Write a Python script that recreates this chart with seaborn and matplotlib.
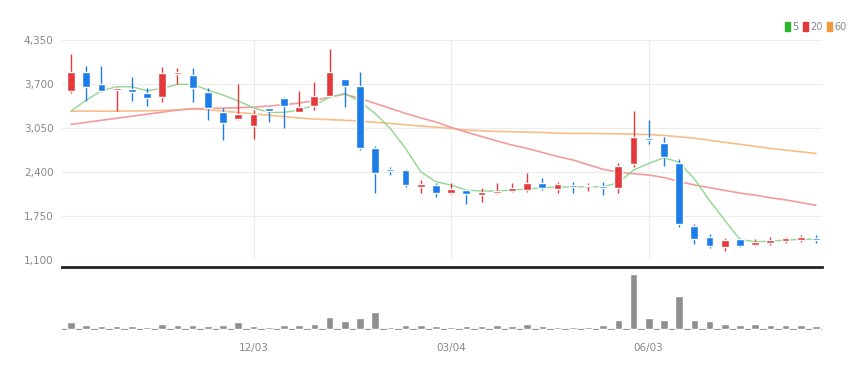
import numpy as np
import pandas as pd
import matplotlib
matplotlib.use("Agg")
import matplotlib.pyplot as plt
import seaborn as sns
from matplotlib.patches import Patch

# ── weekly candle data ────────────────────────────────────────
opens = [3601, 3873, 3696, 3611, 3622, 3572, 3512, 3852, 3833, 3586,
         3291, 3183, 3084, 3341, 3489, 3291, 3380, 3523, 3769, 3675,
         2750, 2444, 2430, 2174, 2203, 2095, 2134, 2060, 2090, 2124,
         2134, 2242, 2144, 2203, 2188, 2193, 2168, 2518, 2898, 2833,
         2528, 1602, 1435, 1297, 1405, 1322, 1356, 1380, 1395, 1425]
highs = [4143, 3970, 3970, 3660, 3808, 3645, 3947, 3932, 3932, 3636,
         3341, 3700, 3316, 3350, 3504, 3601, 3734, 4212, 3775, 3873,
         2784, 2479, 2440, 2282, 2242, 2233, 2140, 2168, 2242, 2242,
         2390, 2307, 2257, 2257, 2242, 2257, 2528, 3301, 3168, 2922,
         2592, 1632, 1484, 1420, 1420, 1405, 1444, 1444, 1469, 1469]
lows = [3563, 3453, 3586, 3301, 3449, 3380, 3439, 3696, 3430, 3168,
        2873, 3175, 2887, 3134, 3054, 3291, 3316, 3523, 3355, 2725,
        2085, 2356, 2174, 2095, 2035, 2070, 1927, 1961, 2070, 2109,
        2109, 2134, 2085, 2095, 2124, 2060, 2095, 2469, 2814, 2489,
        1583, 1336, 1273, 1237, 1287, 1307, 1322, 1346, 1371, 1346]
closes = [3873, 3651, 3597, 3645, 3582, 3489, 3858, 3877, 3636, 3350,
          3128, 3257, 3257, 3306, 3380, 3365, 3523, 3882, 3675, 2750,
          2390, 2415, 2203, 2223, 2085, 2149, 2070, 2109, 2119, 2159,
          2242, 2159, 2223, 2178, 2203, 2168, 2493, 2922, 2873, 2626,
          1632, 1405, 1307, 1395, 1311, 1371, 1395, 1420, 1435, 1395]

# moving averages as drawn on the chart
ma5 = [3301, 3464, 3601, 3660, 3660, 3601, 3636, 3696, 3696, 3611,
       3538, 3449, 3350, 3282, 3282, 3316, 3390, 3504, 3563, 3439,
       3267, 3045, 2750, 2405, 2257, 2208, 2134, 2119, 2119, 2134,
       2149, 2168, 2178, 2183, 2183, 2183, 2242, 2430, 2528, 2611,
       2545, 2300, 1980, 1690, 1405, 1371, 1380, 1395, 1405, 1410]
ma20 = [3104, 3135, 3165, 3195, 3225, 3255, 3285, 3315, 3335, 3340,
        3345, 3350, 3360, 3375, 3395, 3420, 3455, 3510, 3550, 3489,
        3415, 3341, 3267, 3200, 3140, 3060, 2990, 2925, 2860, 2800,
        2750, 2690, 2630, 2580, 2510, 2440, 2400, 2375, 2356, 2320,
        2260, 2210, 2170, 2130, 2090, 2060, 2020, 1990, 1950, 1910]
ma60 = [3301, 3301, 3300, 3300, 3302, 3305, 3310, 3320, 3335, 3320,
        3300, 3280, 3260, 3240, 3220, 3200, 3183, 3175, 3165, 3153,
        3135, 3119, 3100, 3080, 3065, 3045, 3020, 3010, 3000, 2996,
        2990, 2985, 2975, 2970, 2970, 2968, 2965, 2960, 2955, 2940,
        2922, 2900, 2870, 2840, 2810, 2780, 2750, 2725, 2700, 2676]

volume = [21, 12, 11, 11, 11, 8, 17, 12, 12, 11,
          12, 21, 11, 8, 12, 12, 17, 38, 24, 34,
          53, 8, 12, 12, 11, 8, 11, 11, 12, 11,
          17, 11, 8, 8, 8, 12, 28, 165, 33, 28,
          100, 28, 24, 17, 12, 17, 12, 12, 12, 11]

date_pos = [12, 25, 38]
date_labels = ["12/03", "03/04", "06/03"]
y_ticks = [1100, 1750, 2400, 3050, 3700, 4350]

df = pd.DataFrame({"idx": np.arange(len(opens)), "open": opens, "high": highs,
                   "low": lows, "close": closes, "ma5": ma5, "ma20": ma20,
                   "ma60": ma60, "volume": volume})

UP = "#e5383b"
DOWN = "#1c7de8"

sns.set_style("white")
plt.rcParams["font.family"] = ["Liberation Sans Narrow", "DejaVu Sans"]

fig = plt.figure(figsize=(8.68, 3.71), dpi=100)
ax = fig.add_axes([0.0714, 0.299, 0.8756, 0.593])
axv = fig.add_axes([0.0714, 0.110, 0.8756, 0.170])

# ── moving averages ───────────────────────────────────────────
sns.lineplot(data=df, x="idx", y="ma60", ax=ax, color="#f7bd8a", lw=1.2, zorder=2)
sns.lineplot(data=df, x="idx", y="ma20", ax=ax, color="#f29c9c", lw=1.2, zorder=2)
sns.lineplot(data=df, x="idx", y="ma5", ax=ax, color="#8fd68f", lw=1.0, zorder=2)

# ── candles ───────────────────────────────────────────────────
colors = [UP if c >= o else DOWN for o, c in zip(df["open"], df["close"])]
ax.vlines(df["idx"], df["low"], df["high"], colors=colors, lw=1, zorder=3)
body_lo = np.minimum(df["open"], df["close"])
body_h = np.maximum(np.abs(df["close"] - df["open"]), 25)
ax.bar(df["idx"], body_h, bottom=body_lo, width=0.52, color=colors, zorder=4)

ax.set_xlim(-0.6, 49.4)
ax.set_ylim(1100, 4350)
ax.set_yticks(y_ticks)
ax.set_yticklabels([f"{v:,}" for v in y_ticks], fontsize=7.5, color="#888888")
ax.set_xticks(date_pos)
ax.set_xticklabels([])
ax.tick_params(axis="both", length=0, pad=6)
ax.grid(True, color="#ececec", lw=0.8)
ax.set_xlabel("")
ax.set_ylabel("")
for s in ax.spines.values():
    s.set_visible(False)

# ── volume ────────────────────────────────────────────────────
sns.barplot(data=df, x="idx", y="volume", ax=axv, color="#8f8f8f",
            saturation=1, width=0.5, zorder=3)
axv.set_xlim(-0.6, 49.4)
axv.set_ylim(-3, 186)
axv.axhline(-1.5, color="#9a9a9a", lw=1.6, zorder=2)
axv.set_yticks([])
axv.set_xticks(date_pos)
axv.set_xticklabels(date_labels, fontsize=7.5, color="#888888")
axv.tick_params(axis="x", length=3, color="#555555", pad=6)
axv.set_xlabel("")
axv.set_ylabel("")
for k in ["left", "right", "bottom"]:
    axv.spines[k].set_visible(False)
axv.spines["top"].set_color("#222222")
axv.spines["top"].set_linewidth(2)

# ── legend ────────────────────────────────────────────────────
handles = [Patch(color="#2db52d", label="5"),
           Patch(color="#e5383b", label="20"),
           Patch(color="#f39a3c", label="60")]
fig.legend(handles=handles, loc="upper right", bbox_to_anchor=(0.985, 0.965),
           ncol=3, frameon=False, fontsize=7, handlelength=0.45, handleheight=1.0,
           handletextpad=0.25, columnspacing=0.5, labelcolor="#888888")

fig.savefig("out.png", dpi=100)
